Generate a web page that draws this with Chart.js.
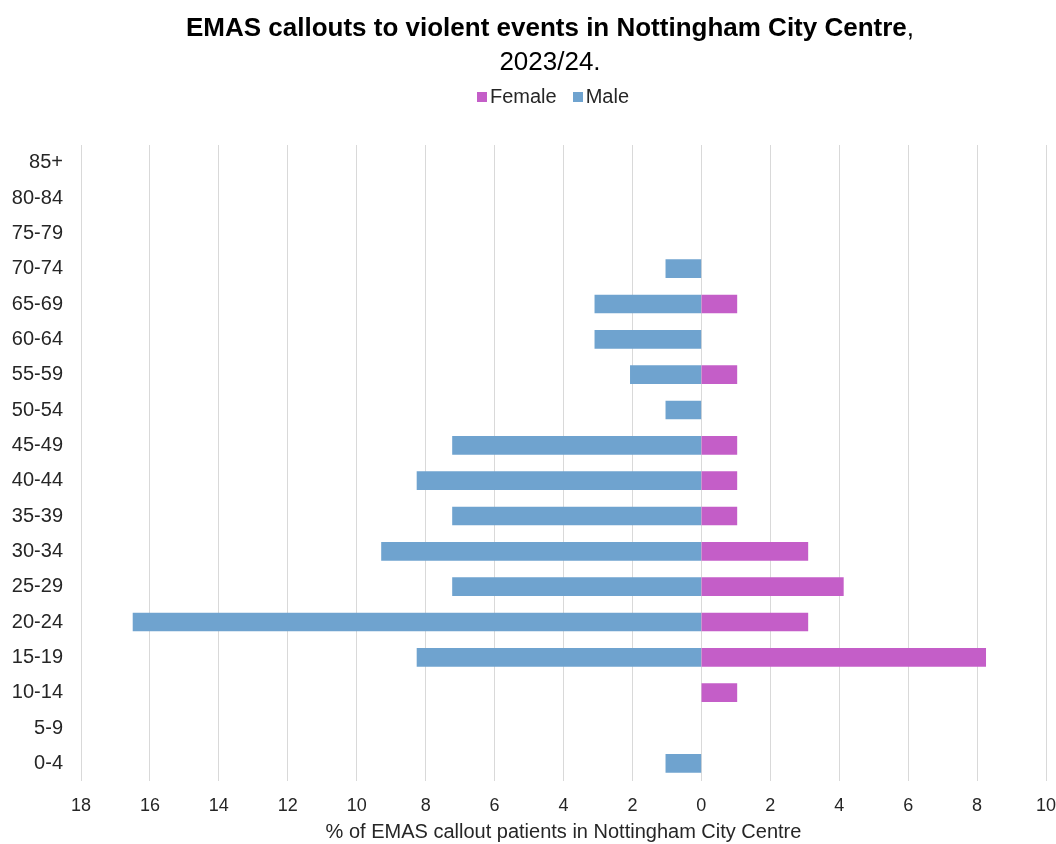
<!DOCTYPE html>
<html>
<head>
<meta charset="utf-8">
<script src="https://cdn.jsdelivr.net/npm/chart.js@4/dist/chart.umd.min.js"></script>
<style>
  html, body { margin: 0; padding: 0; background: #fff; }
  #wrap { position: relative; width: 1056px; height: 844px; }
  #title { position: absolute; left: 0; width: 1100px; top: 10px; text-align: center;
           font-family: "Liberation Sans", Arial, sans-serif; font-size: 26px; color: #000; line-height: 34px; }
  #legend { position: absolute; left: 0; width: 1106px; top: 85px; text-align: center;
            font-family: "Liberation Sans", Arial, sans-serif; font-size: 20px; color: #262626; }
  #legend span.box { display: inline-block; width: 10px; height: 10px; margin-right: 3px; vertical-align: 1px; }
  #legend span.item { margin: 0 8px; }
  canvas { position: absolute; left: 0; top: 0; }
</style>
</head>
<body>
<div id="wrap">
  <canvas id="chart" width="1056" height="844"></canvas>
  <div id="title"><b>EMAS callouts to violent events in Nottingham City Centre</b>,<br>2023/24.</div>
  <div id="legend"></div>
</div>
<script>
// age bands, youngest first
const ageBands = ['0-4', '5-9', '10-14', '15-19', '20-24', '25-29', '30-34', '35-39',
  '40-44', '45-49', '50-54', '55-59', '60-64', '65-69', '70-74', '75-79', '80-84', '85+'];

// % of callout patients; male plotted to the left as negatives
const femalePct = [0, 0, 1.03, 8.25, 3.09, 4.12, 3.09, 1.03, 1.03, 1.03, 0, 1.03, 0, 1.03, 0, 0, 0, 0];
const malePct = [1.03, 0, 0, 8.25, 16.49, 7.22, 9.28, 7.22, 8.25, 7.22, 1.03, 2.06, 3.09, 3.09, 1.03, 0, 0, 0];

const seriesNames = ['Female', 'Male'];
const seriesColours = ['#c45ec8', '#6fa3cf'];

const font = 'Liberation Sans';
const textColour = '#262626';

// empty bands get no bar at all
const orNull = v => (v === 0 ? null : v);

const chart = new Chart(document.getElementById('chart'), {
  type: 'bar',
  data: {
    labels: ageBands,
    datasets: [
      { label: seriesNames[0], data: femalePct.map(orNull), backgroundColor: seriesColours[0], barThickness: 18 },
      { label: seriesNames[1], data: malePct.map(v => orNull(-v)), backgroundColor: seriesColours[1], barThickness: 18 }
    ]
  },
  options: {
    indexAxis: 'y',
    responsive: false,
    animation: false,
    layout: { padding: { top: 145, right: 0, left: 0, bottom: 0 } },
    plugins: {
      tooltip: { enabled: false },
      legend: { display: false }
    },
    scales: {
      x: {
        min: -18, max: 10,
        afterFit: s => { s.height = 63; s.paddingRight = 10; },
        ticks: {
          stepSize: 2, color: textColour, padding: 14, maxRotation: 0,
          font: { family: font, size: 18 },
          callback: v => Math.abs(v)
        },
        grid: { color: '#d9d9d9', lineWidth: 1, drawTicks: false },
        border: { display: false },
        title: {
          display: true, text: '% of EMAS callout patients in Nottingham City Centre',
          color: textColour, font: { family: font, size: 20 }, padding: { top: 0, bottom: 0 }
        }
      },
      y: {
        stacked: true,
        reverse: true,
        afterFit: s => { s.width = 81; },
        ticks: { color: textColour, padding: 10, font: { family: font, size: 20 } },
        grid: { display: false },
        border: { display: false }
      }
    }
  }
});

// legend row above the plot
document.getElementById('legend').innerHTML = chart.data.datasets.map(ds =>
  '<span class="item"><span class="box" style="background:' + ds.backgroundColor + '"></span>' + ds.label + '</span>'
).join('');
</script>
</body>
</html>
